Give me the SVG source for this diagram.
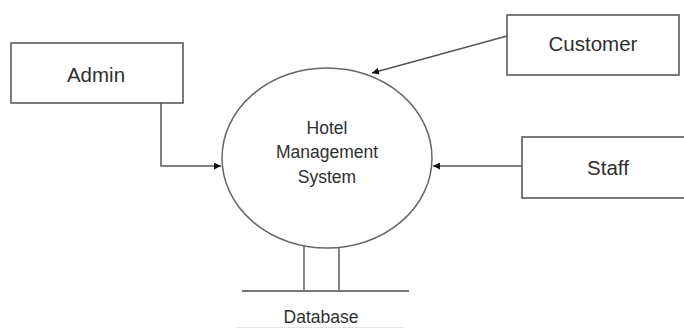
<svg xmlns="http://www.w3.org/2000/svg" width="684" height="329" viewBox="0 0 684 329">
<style>
.box{fill:#fff;stroke:#5a5a5a;stroke-width:1.6}
.lbl{font-family:"Liberation Sans",Arial,sans-serif;font-size:20.5px;fill:#2f2f2f;text-anchor:middle}
.in{font-size:17.5px}
.conn{fill:none;stroke:#555;stroke-width:1.5}
.thin{fill:none;stroke:#444;stroke-width:1.3}
</style>
<defs>
<marker id="arr" viewBox="0 0 10 10" refX="10" refY="5" markerWidth="7" markerHeight="7" markerUnits="userSpaceOnUse" orient="auto">
<path d="M0,0 L10,5 L0,10 z" fill="#111"/>
</marker>
</defs>
<rect width="684" height="329" fill="#fff"/>
<g id="connectors">
<polyline class="conn" points="161,103 161,166 221,166" marker-end="url(#arr)"/>
<line class="conn" x1="507" y1="36" x2="372" y2="73" marker-end="url(#arr)"/>
<line class="conn" x1="522" y1="166" x2="433" y2="166" marker-end="url(#arr)"/>
<line class="thin" x1="304" y1="246" x2="304" y2="291"/>
<line class="thin" x1="339" y1="246" x2="339" y2="291"/>
</g>
<g id="admin">
<rect class="box" x="11" y="43" width="172" height="60"/>
<text class="lbl" x="96" y="81.5">Admin</text>
</g>
<g id="customer">
<rect class="box" x="507" y="15" width="172" height="60"/>
<text class="lbl" x="593" y="50.5">Customer</text>
</g>
<g id="staff">
<rect class="box" x="522" y="137" width="170" height="61"/>
<text class="lbl" x="608" y="174.5">Staff</text>
</g>
<g id="system">
<ellipse cx="327" cy="158" rx="105" ry="90" fill="#fff" stroke="#666" stroke-width="1.5"/>
<text class="lbl in" x="327" y="133.5">Hotel</text>
<text class="lbl in" x="327" y="157.5">Management</text>
<text class="lbl in" x="327" y="183">System</text>
</g>
<g id="database">
<line x1="242" y1="291" x2="409" y2="291" stroke="#777" stroke-width="2"/>
<line x1="237" y1="327.5" x2="403" y2="327.5" stroke="#e4e4e4" stroke-width="1"/>
<text class="lbl in" x="321" y="323">Database</text>
</g>
</svg>
